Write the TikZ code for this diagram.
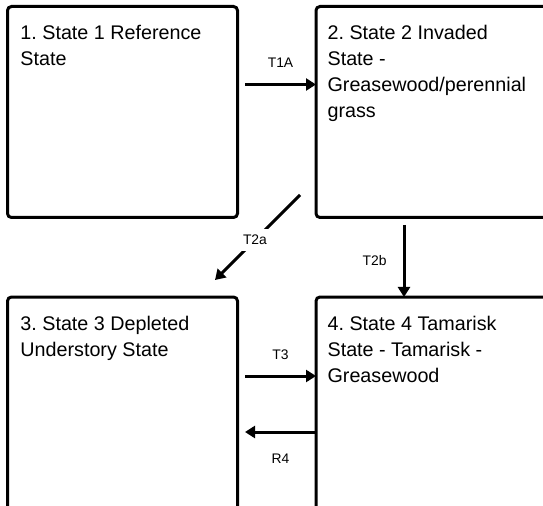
\documentclass[tikz,border=0pt]{standalone}
\usepackage{fontspec}
\setmainfont{Liberation Sans}
\frenchspacing
\usetikzlibrary{arrows.meta}
\usetikzlibrary{positioning}

\tikzset{
	statebox/.style={draw, line width=2.25pt, rounded corners=3pt, outer sep=0pt, inner sep=0pt, anchor=north west},
	statetext/.style={font=\fontsize{14.8}{19.5}\selectfont, align=left, inner sep=0pt, anchor=north west},
	trans/.style={line width=2.25pt, -{Triangle[length=7.5pt,width=9pt]}},
	translabel/.style={font=\fontsize{10.4}{12}\selectfont, inner sep=0pt}
}

\begin{document}
\begin{tikzpicture}[x=0.75pt,y=-0.75pt]
	\useasboundingbox (0,0) rectangle (543,506);
	\clip (0,0) rectangle (543,506);

	% states
	\node[statebox, minimum width=172.5pt, minimum height=158.25pt] (s1) at (7.5,6.5) {};
	\node[statebox, minimum width=195pt, minimum height=158.25pt] (s2) at (316,6.5) {};
	\node[statebox, minimum width=172.5pt, minimum height=195pt] (s3) at (7.5,297) {};
	\node[statebox, minimum width=195pt, minimum height=195pt] (s4) at (316,297) {};

	\node[statetext, below right=13.9pt and 9.5pt of s1.north west] (t1) {1. State 1 Reference\\State};
	\node[statetext, below right=13.9pt and 8.5pt of s2.north west] (t2) {2. State 2 Invaded\\State -\\Greasewood/perennial\\grass};
	\node[statetext, below right=13.9pt and 9.5pt of s3.north west] (t3) {3. State 3 Depleted\\Understory State};
	\node[statetext, below right=13.9pt and 8.5pt of s4.north west] (t4) {4. State 4 Tamarisk\\State - Tamarisk -\\Greasewood};

	% transitions
	\draw[trans] ([shift={(7.5,78)}]s1.north east) -- ([shift={(0,78)}]s2.north west)
		node[translabel, midway, above=11.5pt] (l1a) {T1A};
	\draw[trans] ([shift={(-16,-22.5)}]s2.south west) -- ([shift={(-22.5,-17)}]s3.north east)
		node[translabel, pos=0.53, fill=white, inner sep=4.5pt] (l2a) {T2a};
	\draw[trans] ([shift={(88,7.5)}]s2.south west) -- ([shift={(88,0)}]s4.north west)
		node[translabel, midway, left=12pt] (l2b) {T2b};
	\draw[trans] ([shift={(7.5,79)}]s3.north east) -- ([shift={(0,79)}]s4.north west)
		node[translabel, midway, above=11.5pt] (l3) {T3};
	\draw[trans] ([shift={(0,135)}]s4.north west) -- ([shift={(7.5,135)}]s3.north east)
		node[translabel, midway, below=15.5pt] (l4) {R4};
\end{tikzpicture}
\end{document}
